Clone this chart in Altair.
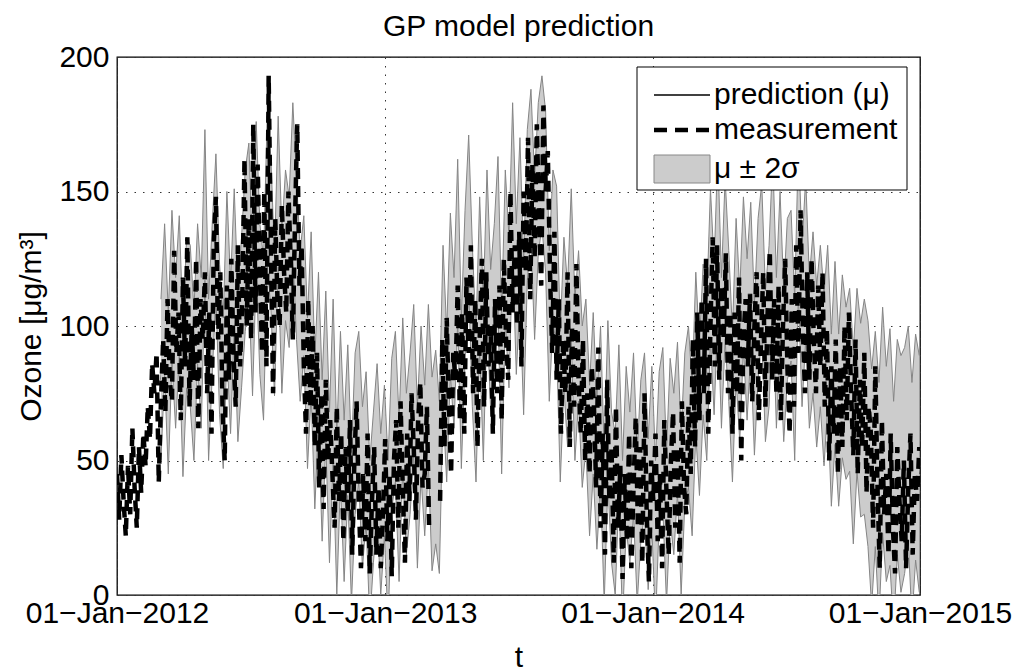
import altair as alt
import pandas as pd

# ---------------- data ----------------
START_DATE = "2012-01-01"
MEAS_STEP_DAYS = 3      # measurement sampled every 3 days
PRED_STEP_DAYS = 5      # prediction mean / sigma sampled every 5 days

measurement = [
    45, 28, 52, 35, 22, 48, 30,
    62, 40, 25, 55, 38, 60, 48,
    70, 58, 86, 75, 90, 42, 72,
    95, 68, 110, 80, 72, 128, 90,
    105, 65, 118, 85, 133, 70, 100,
    80, 125, 62, 110, 95, 120, 75,
    105, 60, 130, 148, 95, 120, 70,
    50, 115, 80, 125, 90, 70, 130,
    85, 110, 162, 100, 140, 95, 175,
    105, 160, 120, 90, 150, 85, 193,
    130, 75, 140, 110, 100, 145, 120,
    105, 150, 125, 95, 140, 175, 115,
    130, 85, 60, 110, 70, 100, 55,
    90, 40, 75, 32, 80, 50, 65,
    45, 25, 70, 35, 60, 20, 55,
    30, 65, 15, 50, 72, 35, 10,
    45, 20, 60, 8, 35, 55, 15,
    40, 10, 30, 58, 20, 45, 7,
    50, 65, 25, 72, 40, 12, 60,
    35, 75, 55, 28, 65, 79, 40,
    45, 70, 25, None, None, None, None,
    35, 95, 55, 103, 70, 45, 90,
    80, 115, 65, 105, 60, 118, 90,
    130, 75, 110, 55, 95, 125, 70,
    120, 85, 100, 60, 110, 75, 115,
    65, 125, 95, 80, 150, 105, 130,
    100, 135, 85, 150, 120, 170, 110,
    160, 125, 175, 140, 115, 182, 150,
    165, 120, 90, 135, 80, 110, 60,
    95, 75, 120, 55, 100, 70, 123,
    80, 60, 95, 50, 75, 45, 85,
    70, 40, 92, 25, 60, 15, 80,
    35, 55, 12, 70, 25, 48, 6,
    45, 20, 60, 10, 40, 66, 25,
    55, 12, 75, 30, 5, 50, 35,
    60, 20, 45, 10, 65, 38, 15,
    50, 68, 25, 55, 12, 72, 40,
    30, 70, 45, 95, 55, 105, 65,
    110, 75, 125, 60, 100, 133, 85,
    130, 80, 115, 95, 127, 75, 105,
    60, 105, 75, 118, 50, 95, 110,
    85, 112, 72, 100, 120, 65, 95,
    120, 70, 105, 128, 80, 110, 75,
    115, 65, 100, 125, 85, 60, 110,
    70, 130, 90, 143, 100, 75, 120,
    80, 125, 95, 75, 115, 85, 120,
    70, 99, 50, 85, 60, 95, 45,
    85, 55, 100, 65, 105, 75, 52,
    95, 45, 80, 55, 90, 38, 70,
    60, 25, 85, 40, 10, 65, 30,
    45, 15, 60, 25, 8, 55, 35,
    20, 50, 10, 40, 60, 15, 45,
    35, 55,
]

prediction_mu = [None] * 12 + [
    80, 110, 75, 115, 90, 115, 72, 105, 100, 78, 112, 90,
    145, 80, 110, 138, 95, 75, 120, 88, 125, 85, 105, 128,
    140, 100, 148, 110, 95, 150, 135, 100, 150, 105, 130, 120,
    155, 125, 100, 115, 75, 105, 60, 92, 50, 85, 40, 80,
    30, 70, 35, 65, 25, 60, 70, 40, 55, 20, 40, 58,
    30, 50, 20, 60, 70, 35, 75, 45, 60, 80, 40, 72,
    50, 78, 45, 55, 40, 100, 70, 112, 90, 132, 75, 115,
    143, 100, 70, 120, 80, 130, 95, 110, 135, 75, 130, 105,
    155, 110, 140, 95, 145, 160, 125, 155, 165, 150, 100, 130,
    122, 70, 105, 85, 123, 80, 100, 70, 82, 50, 75, 45,
    70, 25, 72, 40, 30, 65, 20, 55, 40, 60, 25, 50,
    60, 30, 55, 20, 55, 62, 25, 58, 45, 66, 30, 62,
    70, 50, 90, 65, 95, 80, 123, 95, 135, 90, 125, 100,
    70, 110, 85, 120, 95, 118, 80, 110, 125, 85, 100, 135,
    90, 120, 85, 110, 115, 80, 140, 100, 125, 90, 105, 85,
    100, 80, 100, 65, 90, 65, 85, 75, 80, 55, 80, 65,
    70, 60, 40, 58, 35, 65, 45, 55, 30, 55, 45, 50,
    60, 35, 55, 45,
]

prediction_sigma = [None] * 12 + [
    15, 14, 15, 14, 14, 13, 14, 14, 15, 14, 13, 14,
    14, 15, 14, 13, 14, 14, 15, 14, 13, 14, 14, 15,
    14, 13, 14, 14, 15, 14, 14, 13, 14, 15, 14, 14,
    14, 15, 14, 13, 14, 15, 14, 14, 15, 14, 14, 15,
    15, 14, 15, 14, 14, 15, 14, 15, 14, 15, 14, 14,
    15, 14, 15, 14, 14, 15, 14, 15, 15, 14, 15, 14,
    14, 15, 18, 18, 16, 15, 14, 15, 14, 15, 14, 14,
    14, 15, 14, 14, 15, 14, 13, 14, 14, 15, 14, 14,
    14, 14, 15, 14, 14, 14, 15, 14, 14, 15, 14, 14,
    15, 14, 14, 15, 14, 15, 14, 15, 14, 14, 15, 14,
    15, 14, 15, 14, 15, 14, 15, 15, 14, 15, 14, 15,
    15, 14, 15, 15, 14, 15, 14, 15, 15, 14, 15, 14,
    15, 14, 15, 14, 14, 15, 14, 14, 15, 14, 15, 14,
    14, 15, 14, 14, 15, 14, 14, 15, 14, 14, 15, 14,
    14, 15, 14, 15, 14, 15, 14, 15, 15, 14, 15, 15,
    15, 16, 15, 16, 17, 16, 17, 16, 17, 18, 17, 18,
    20, 21, 22, 20, 22, 21, 20, 22, 21, 20, 22, 21,
    20, 22, 21, 22,
]

Y_TICKS = [0, 50, 100, 150, 200]
X_TICK_YEARS = [2012, 2013, 2014, 2015]
LEGEND_LABELS = ["prediction (\u03bc)", "measurement", "\u03bc \u00b1 2\u03c3"]

# ---------------- tables ----------------
meas_df = pd.DataFrame({
    "date": pd.date_range(START_DATE, periods=len(measurement), freq=f"{MEAS_STEP_DAYS}D").strftime("%Y-%m-%d"),
    "meas": pd.Series(measurement, dtype="float"),
})
pred_df = pd.DataFrame({
    "date": pd.date_range(START_DATE, periods=len(prediction_mu), freq=f"{PRED_STEP_DAYS}D").strftime("%Y-%m-%d"),
    "mu": pd.Series(prediction_mu, dtype="float"),
    "sigma": pd.Series(prediction_sigma, dtype="float"),
})
pred_df["lo"] = pred_df["mu"] - 2 * pred_df["sigma"]
pred_df["hi"] = pred_df["mu"] + 2 * pred_df["sigma"]

FONT = "Liberation Sans"
FS = 30
GRID = dict(grid=True, gridDash=[1.5, 7], gridColor="#333333", domain=False, ticks=False)

x_dates = [alt.DateTime(year=y, month=1, date=1, utc=True) for y in X_TICK_YEARS]
x_enc = alt.X(
    "date:T",
    scale=alt.Scale(type="utc", domain=[x_dates[0], x_dates[-1]]),
    axis=alt.Axis(
        values=x_dates,
        labelExpr="utcFormat(datum.value, '%d') + '\u2212' + utcFormat(datum.value, '%b') + '\u2212' + utcFormat(datum.value, '%Y')",
        title="t",
        labelFlush=False,
        labelOverlap=False,
        labelLimit=400,
        labelPadding=3,
        titlePadding=14,
        **GRID,
    ),
)


def y_enc(field):
    return alt.Y(
        f"{field}:Q",
        scale=alt.Scale(domain=[0, 200], nice=False, zero=False),
        axis=alt.Axis(
            values=Y_TICKS,
            title="Ozone [\u03bcg/m\u00b3]",
            labelPadding=8,
            titlePadding=12,
            **GRID,
        ),
    )


pred_base = alt.Chart(pred_df)
pred_line = pred_base.mark_line(color="black", strokeWidth=1, clip=True).encode(x=x_enc, y=y_enc("mu"))
band = pred_base.mark_area(color="#cccccc", opacity=1, clip=True).encode(
    x=x_enc, y=y_enc("lo"), y2=alt.Y2("hi:Q")
)
band_lo = pred_base.mark_line(color="#858585", strokeWidth=1, clip=True).encode(x=x_enc, y=y_enc("lo"))
band_hi = pred_base.mark_line(color="#858585", strokeWidth=1, clip=True).encode(x=x_enc, y=y_enc("hi"))
meas_line = alt.Chart(meas_df).mark_line(
    color="black", strokeWidth=4.5, strokeDash=[11, 7], clip=True
).encode(x=x_enc, y=y_enc("meas"))

# ---------------- legend box ----------------
one = pd.DataFrame({"k": [0]})
leg_box = alt.Chart(one).mark_rect(fill="white", stroke="black", strokeWidth=1).encode(
    x=alt.value(520), x2=alt.value(790), y=alt.value(10), y2=alt.value(133)
)
leg_solid = alt.Chart(one).mark_rule(color="black", strokeWidth=1.5).encode(
    x=alt.value(537), x2=alt.value(593), y=alt.value(38)
)
leg_dash = alt.Chart(one).mark_rule(color="black", strokeWidth=4.5, strokeDash=[13, 8]).encode(
    x=alt.value(537), x2=alt.value(593), y=alt.value(73)
)
leg_patch = alt.Chart(one).mark_rect(fill="#cccccc", stroke="#888888", strokeWidth=1).encode(
    x=alt.value(537), x2=alt.value(593), y=alt.value(98), y2=alt.value(126)
)
leg_texts = [
    alt.Chart(one).mark_text(align="left", baseline="middle", fontSize=FS, font=FONT, color="black").encode(
        x=alt.value(597), y=alt.value(yy), text=alt.value(lbl)
    )
    for lbl, yy in zip(LEGEND_LABELS, [38, 73, 112])
]

chart = alt.layer(
    pred_line, band, band_lo, band_hi, meas_line,
    leg_box, leg_solid, leg_dash, leg_patch, *leg_texts,
).properties(
    width=803,
    height=538,
    padding={"left": 117, "top": 57, "right": 102, "bottom": 76},
    autosize=alt.AutoSizeParams(type="none"),
    title=alt.TitleParams("GP model prediction", fontSize=FS, fontWeight="normal", font=FONT, color="black", offset=0),
).configure(
    font=FONT,
).configure_axis(
    labelFont=FONT, titleFont=FONT, labelFontSize=FS, titleFontSize=FS,
    labelColor="black", titleColor="black", titleFontWeight="normal",
).configure_view(
    stroke="black", strokeWidth=1.3,
)

chart.save("out.html", embed_options={"renderer": "svg", "actions": False})
